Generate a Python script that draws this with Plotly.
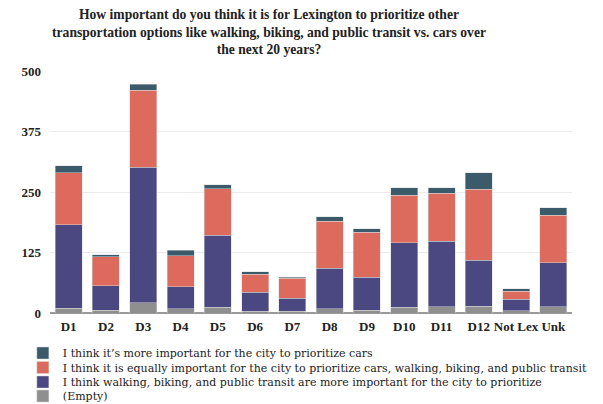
import plotly.graph_objects as go

categories = ["D1", "D2", "D3", "D4", "D5", "D6", "D7", "D8", "D9", "D10", "D11", "D12", "Not Lex", "Unk"]
empty_vals = [10, 6, 21, 9, 12, 4, 4, 9, 6, 12, 13, 14, 5, 13]
walk_vals = [172, 50, 280, 45, 149, 39, 26, 83, 68, 133, 135, 95, 23, 91]
equal_vals = [108, 60, 159, 64, 96, 37, 42, 98, 93, 98, 99, 147, 17, 98]
cars_vals = [14, 4, 13, 12, 8, 5, 2, 9, 7, 16, 12, 34, 5, 15]

series_names = [
    "(Empty)",
    "I think walking, biking, and public transit are more important for the city to prioritize",
    "I think it is equally important for the city to prioritize cars, walking, biking, and public transit",
    "I think it\u2019s more important for the city to prioritize cars",
]
series_vals = [empty_vals, walk_vals, equal_vals, cars_vals]
colors = ["#8f8f8f", "#4b4780", "#dc6b5d", "#3b5b6b"]
legend_ids = ["legend4", "legend3", "legend2", "legend"]
legend_rows = [-0.343, -0.2851, -0.2252, -0.1653]

title_text = ("How important do you think it is for Lexington to prioritize other<br>"
              "transportation options like walking, biking, and public transit vs. cars over<br>"
              "the next 20 years?")
tick_vals = [0, 125, 250, 375, 500]

# page body adds an 8px offset, so the figure is drawn 8px smaller
W, H = 595, 396

fig = go.Figure()
for name, vals, col, lid in zip(series_names, series_vals, colors, legend_ids):
    fig.add_trace(go.Bar(
        x=categories, y=vals, name=name, legend=lid,
        marker=dict(color=col, line=dict(color="rgba(215,215,215,0.8)", width=0.6)),
    ))

serif = "Liberation Serif"
legend_font = dict(family="DejaVu Serif", size=11, color="#222")
legends = {}
for lid, yy in zip(legend_ids, legend_rows):
    legends[lid] = dict(x=-0.052, xanchor="left", y=yy, yanchor="middle",
                        font=legend_font, bgcolor="rgba(0,0,0,0)", borderwidth=0)

fig.update_layout(
    barmode="stack",
    bargap=0.276,
    width=W, height=H,
    paper_bgcolor="white", plot_bgcolor="white",
    margin=dict(l=42, r=31, t=63, b=91, autoexpand=False),
    title=dict(text=title_text, x=261 / W, xanchor="center", y=1 - 11 / H, yanchor="middle",
               font=dict(family=serif, size=13.6, color="#222", weight="bold")),
    font=dict(family=serif, color="#222"),
    xaxis=dict(showgrid=False, tickfont=dict(family=serif, size=13, weight="bold", color="#222"),
               ticks="", showline=False, ticklabelstandoff=4),
    yaxis=dict(range=[0, 500], tickvals=tick_vals, showgrid=True, gridcolor="#ebebeb",
               zeroline=True, zerolinecolor="#9a9a9a", zerolinewidth=1.5, ticklabelstandoff=8,
               tickfont=dict(family=serif, size=13, weight="bold", color="#222"), ticks=""),
    showlegend=True,
    **legends,
)
fig.write_html("out.html")
